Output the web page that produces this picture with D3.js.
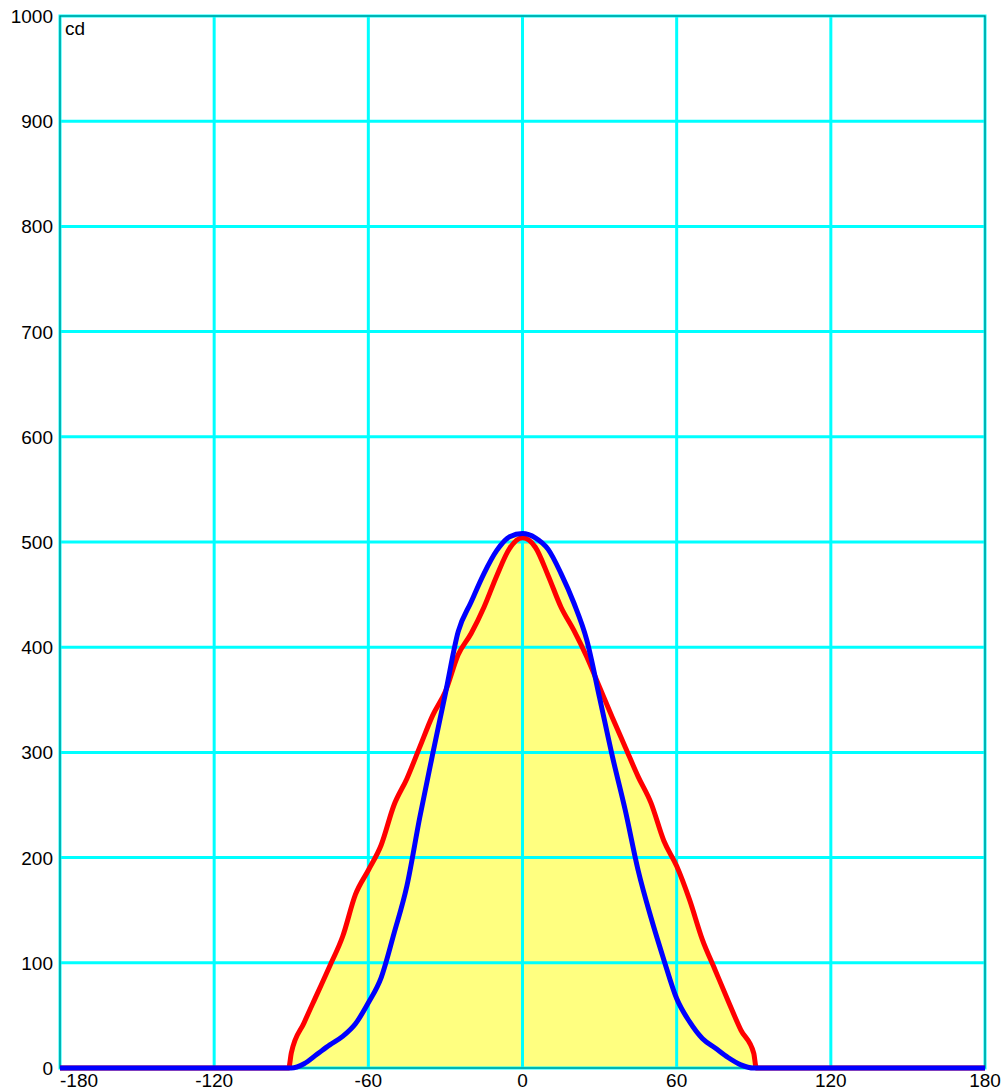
<!DOCTYPE html>
<html>
<head>
<meta charset="utf-8">
<script src="https://cdn.jsdelivr.net/npm/d3@7"></script>
<style>
  html, body { margin: 0; padding: 0; background: #ffffff; }
  svg { display: block; }
</style>
</head>
<body>
<div id="mainDiv"></div>
<script>
// Values (angle in degrees, luminous intensity in cd)
let angles = [-180, -91, -90, -85, -80, -75, -70, -65, -60, -55, -50, -45, -40, -35, -30, -25, -20, -15, -10, -5,
  0, 5, 10, 15, 20, 25, 30, 35, 40, 45, 50, 55, 60, 65, 70, 75, 80, 85, 90, 91, 180];
let redValues = [0, 0, 14, 43, 70, 97, 125, 165, 188, 212, 250, 275, 305, 335, 358, 393, 413, 438, 468, 494,
  504, 495, 468, 438, 416, 391, 362, 333, 305, 277, 252, 216, 192, 160, 122, 93, 64, 36, 14, 0, 0];
let blueValues = [0, 0, 0, 4, 13, 22, 30, 42, 62, 86, 128, 173, 238, 298, 356, 415, 443, 470, 492, 505,
  508, 504, 493, 470, 442, 407, 352, 296, 245, 188, 143, 103, 66, 44, 28, 19, 10, 3, 0, 0, 0];
let xTicks = [-180, -120, -60, 0, 60, 120, 180];
let yTicks = [0, 100, 200, 300, 400, 500, 600, 700, 800, 900, 1000];
let unitLabel = "cd";

let chartSize = {
  width: 1006,
  height: 1092,
  margin: { top: 16, right: 21, bottom: 24, left: 60 }
};

let gridColor = "#00ffff";
let fillColor = "#ffff80";

$ = null;

createPhotometricChart();

function toPoints(values) {
  return angles.map((a, i) => ({ angle: a, value: values[i] }));
}

function createPhotometricChart() {
  let left = chartSize.margin.left;
  let right = chartSize.width - chartSize.margin.right;
  let top = chartSize.margin.top;
  let bottom = chartSize.height - chartSize.margin.bottom;

  let x = d3.scaleLinear()
    .domain([-180, 180])
    .range([left, right]);

  let y = d3.scaleLinear()
    .domain([0, 1000])
    .range([bottom, top]);

  const svg = d3.select("#mainDiv")
    .append("svg")
    .attr("width", chartSize.width)
    .attr("height", chartSize.height)
    .attr("viewBox", [0, 0, chartSize.width, chartSize.height]);

  let redPoints = toPoints(redValues);
  let bluePoints = toPoints(blueValues);

  let area = d3.area()
    .curve(d3.curveMonotoneX)
    .x(d => x(d.angle))
    .y0(y(0))
    .y1(d => y(d.value));

  let line = d3.line()
    .curve(d3.curveMonotoneX)
    .x(d => x(d.angle))
    .y(d => y(d.value));

  // yellow fill under both curves
  svg.append("g")
    .selectAll("path")
    .data([redPoints, bluePoints])
    .join("path")
    .attr("d", area)
    .attr("fill", fillColor);

  // grid
  svg.append("g")
    .selectAll("line")
    .data(xTicks.slice(1, -1))
    .join("line")
    .attr("x1", d => x(d))
    .attr("x2", d => x(d))
    .attr("y1", top)
    .attr("y2", bottom)
    .attr("stroke", gridColor)
    .attr("stroke-width", 3);

  svg.append("g")
    .selectAll("line")
    .data(yTicks.slice(1, -1))
    .join("line")
    .attr("x1", left)
    .attr("x2", right)
    .attr("y1", d => y(d))
    .attr("y2", d => y(d))
    .attr("stroke", gridColor)
    .attr("stroke-width", 3);

  // frame
  svg.append("rect")
    .attr("x", left)
    .attr("y", top)
    .attr("width", right - left)
    .attr("height", bottom - top)
    .attr("fill", "none")
    .attr("stroke", gridColor)
    .attr("stroke-width", 3);

  svg.append("rect")
    .attr("x", left)
    .attr("y", top)
    .attr("width", right - left)
    .attr("height", bottom - top)
    .attr("fill", "none")
    .attr("stroke", "#006b6b")
    .attr("stroke-width", 1);

  // curves
  svg.append("path")
    .datum(redPoints)
    .attr("d", line)
    .attr("fill", "none")
    .attr("stroke", "#ff0000")
    .attr("stroke-width", 5)
    .attr("stroke-linejoin", "round");

  svg.append("path")
    .datum(bluePoints)
    .attr("d", line)
    .attr("fill", "none")
    .attr("stroke", "#0000ff")
    .attr("stroke-width", 5)
    .attr("stroke-linejoin", "round");

  // labels
  let font = "'Liberation Sans', Arial, sans-serif";

  svg.append("g")
    .selectAll("text")
    .data(yTicks)
    .join("text")
    .attr("x", left - 7)
    .attr("y", d => y(d) + 7)
    .attr("text-anchor", "end")
    .attr("font-family", font)
    .attr("font-size", 19)
    .attr("fill", "#000000")
    .text(d => d);

  svg.append("g")
    .selectAll("text")
    .data(xTicks)
    .join("text")
    .attr("x", d => d == -180 ? x(d) : x(d))
    .attr("y", bottom + 19)
    .attr("text-anchor", d => d == -180 ? "start" : "middle")
    .attr("font-family", font)
    .attr("font-size", 19)
    .attr("fill", "#000000")
    .text(d => d);

  svg.append("text")
    .attr("x", left + 5)
    .attr("y", top + 19)
    .attr("font-family", font)
    .attr("font-size", 19)
    .attr("fill", "#000000")
    .text(unitLabel);

  return svg.node();
}
</script>
</body>
</html>
